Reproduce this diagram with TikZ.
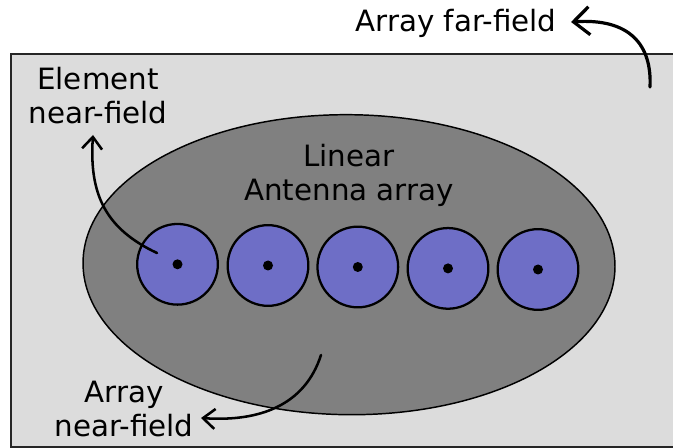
\documentclass[tikz,border=0pt]{standalone}
\usepackage{fontspec}
\setmainfont{DejaVu Sans}
\usetikzlibrary{arrows.meta,shapes.geometric}
\definecolor{bglight}{HTML}{DCDCDC}
\definecolor{antgray}{HTML}{808080}
\definecolor{elemblue}{HTML}{6E6EC6}
\definecolor{frameline}{HTML}{262626}
\begin{document}
\begin{tikzpicture}[x=0.75pt,y=-0.75pt,
  lbl/.style={font=\fontsize{22}{25.5}\selectfont, align=center, inner sep=0pt, text=black},
  elem/.style={circle, draw=black, line width=1.7pt, fill=elemblue, minimum size=60.5pt, inner sep=0pt},
  feed/.style={circle, fill=black, minimum size=7.5pt, inner sep=0pt},
  arrbig/.style={line width=2.4pt, line cap=round, -{Straight Barb[length=12pt,width=21pt,line width=2.4pt]}},
  arrsm/.style={line width=1.9pt, line cap=round, -{Straight Barb[length=9pt,width=15pt,line width=1.9pt]}}]
\clip (0,0) rectangle (673,448);
% region
\fill[bglight] (11,54) rectangle (700,447);
\draw[frameline, line width=1.7pt] (700,54) -- (11,54) -- (11,447) -- (700,447);
% array ellipse
\node (ant) [ellipse, draw=black, line width=1.1pt, fill=antgray, minimum width=399pt, minimum height=225pt, inner sep=0pt, rotate=-0.5] at (349,264.7) {};
% elements
\foreach \i/\x/\y in {1/177.5/264.3, 2/268/265.5, 3/357.8/267, 4/448/268.4, 5/538/269.5}{
  \node (c\i) [elem] at (\x,\y) {};
  \node (f\i) [feed] at (c\i.center) {};
}
% labels (base = baseline of last line)
\node (farlbl) [lbl, anchor=base] at (456,32) {Array far-field};
\node (elbl) [lbl, anchor=base] at (98,124) {Element\\near-field};
\node (antlbl) [lbl, anchor=base] at (349,201) {Linear\\Antenna array};
\node (nlbl) [lbl, anchor=base] at (124,436) {Array\\near-field};
% arrow ends
\coordinate (ffs) at (650,87);
\coordinate (fft) at (571,22);
\coordinate (ens) at (157,253);
\coordinate (ent) at (93,135);
\coordinate (nns) at (321,355);
\coordinate (nnt) at (201,418);
\draw[arrbig] (ffs) .. controls (652,45) and (630,18) .. (fft);
\draw[arrsm] (ens) .. controls (106,229) and (89,195) .. (ent);
\draw[arrsm] (nns) .. controls (305,405) and (260,422) .. (nnt);
\end{tikzpicture}
\end{document}
